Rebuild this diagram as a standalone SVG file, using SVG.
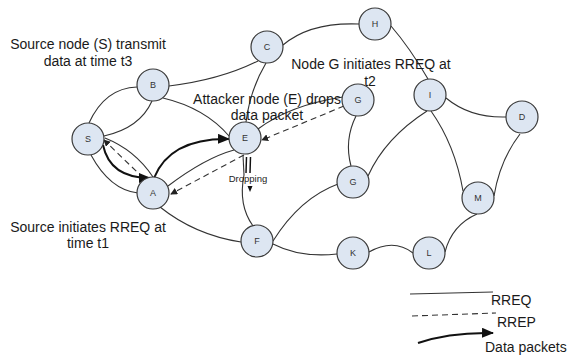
<svg xmlns="http://www.w3.org/2000/svg" width="570" height="356" viewBox="0 0 570 356">
<defs>
<style>
.node circle{fill:#dde6f2;stroke:#3a3a3a;stroke-width:1.2}
.node text{font-family:"Liberation Sans",Arial,sans-serif;font-size:9px;fill:#333;text-anchor:middle}
.e{fill:none;stroke:#333;stroke-width:1.1}
.d{fill:none;stroke:#333;stroke-width:1.1;stroke-dasharray:6 4}
.t{fill:none;stroke:#111;stroke-width:2}
.lbl{font-family:"Liberation Sans",Arial,sans-serif;font-size:14px;fill:#1a1a1a}
.c{text-anchor:middle}
</style>
<marker id="big" viewBox="0 0 12 10" refX="11" refY="5" markerWidth="12" markerHeight="10" markerUnits="userSpaceOnUse" orient="auto">
<path d="M0,0 L12,5 L0,10 z" fill="#111"/>
</marker>
<marker id="sm" viewBox="0 0 8 8" refX="7" refY="4" markerWidth="7" markerHeight="7" markerUnits="userSpaceOnUse" orient="auto">
<path d="M0,0 L8,4 L0,8 z" fill="#222"/>
</marker>
</defs>
<rect width="570" height="356" fill="#fff"/>
<g id="connectors">
<path class="e" d="M89 123 Q105 88 137 87"/>
<path class="e" d="M104 136 Q140 128 152 101"/>
<path class="e" d="M163 98 Q205 108 229 136"/>
<path class="e" d="M105 138 Q135 150 153 177"/>
<path class="e" d="M91 155 Q110 190 138 193"/>
<path class="e" d="M168 186 Q205 158 234 150"/>
<path class="e" d="M160 207 Q195 235 241 242"/>
<path class="e" d="M169 86 Q220 80 258 61"/>
<path class="e" d="M266 63 Q250 90 246 122"/>
<path class="e" d="M283 45 Q310 22 359 24"/>
<path class="e" d="M391 26 Q410 48 428 79"/>
<path class="e" d="M446 98 Q470 118 506 117"/>
<path class="e" d="M427 111 Q385 138 368 176"/>
<path class="e" d="M431 111 Q455 145 463 191"/>
<path class="e" d="M520 134 Q500 160 494 196"/>
<path class="e" d="M477 214 Q452 225 445 252"/>
<path class="e" d="M413 253 C400 243 385 243 369 252"/>
<path class="e" d="M337 254 Q300 258 273 244"/>
<path class="e" d="M273 241 Q300 198 338 184"/>
<path class="e" d="M356 116 Q344 140 351 166"/>
<path class="e" d="M343 97 Q290 105 258 129"/>
<path class="e" d="M244 175 Q238 205 253 226"/>
<path class="e" d="M243 155 L244 175"/>
<line x1="246.5" y1="157" x2="246" y2="173" stroke="#111" stroke-width="1.5"/>
<line x1="250.5" y1="157" x2="250" y2="173" stroke="#111" stroke-width="1.5"/>
<path d="M247.5 186 L252.5 186 L250 192 z" fill="#111"/>
<path class="d" d="M165 199 L104 140" marker-end="url(#sm)"/>
<path class="d" d="M244 155 L171 194" marker-end="url(#sm)"/>
<path class="d" d="M344 106 L262 140" marker-end="url(#sm)"/>
<path class="t" d="M103 145 Q110 178 150 178" marker-end="url(#big)"/>
<path class="t" d="M154 178 Q170 138 229 139" marker-end="url(#big)"/>
</g>
<g id="node-S" class="node"><circle cx="88" cy="139" r="16"/><text x="88" y="142">S</text></g>
<g id="node-B" class="node"><circle cx="153" cy="85" r="16"/><text x="153" y="88">B</text></g>
<g id="node-C" class="node"><circle cx="267" cy="47" r="16"/><text x="267" y="50">C</text></g>
<g id="node-H" class="node"><circle cx="375" cy="24" r="16"/><text x="375" y="27">H</text></g>
<g id="node-E" class="node"><circle cx="245" cy="138" r="16"/><text x="245" y="141">E</text></g>
<g id="node-A" class="node"><circle cx="153" cy="193" r="16"/><text x="153" y="196">A</text></g>
<g id="node-F" class="node"><circle cx="257" cy="241" r="16"/><text x="257" y="244">F</text></g>
<g id="node-G1" class="node"><circle cx="358" cy="100" r="16"/><text x="358" y="103">G</text></g>
<g id="node-G2" class="node"><circle cx="353" cy="182" r="16"/><text x="353" y="185">G</text></g>
<g id="node-I" class="node"><circle cx="430" cy="95" r="16"/><text x="430" y="98">I</text></g>
<g id="node-D" class="node"><circle cx="522" cy="117" r="16"/><text x="522" y="120">D</text></g>
<g id="node-M" class="node"><circle cx="478" cy="198" r="16"/><text x="478" y="201">M</text></g>
<g id="node-K" class="node"><circle cx="353" cy="253" r="16"/><text x="353" y="256">K</text></g>
<g id="node-L" class="node"><circle cx="429" cy="253" r="16"/><text x="429" y="256">L</text></g>
<g id="labels">
<text class="lbl c" x="88" y="49">Source node (S) transmit</text>
<text class="lbl c" x="88" y="66">data at time t3</text>
<text class="lbl c" x="267" y="104">Attacker node (E) drops</text>
<text class="lbl c" x="267" y="120">data packet</text>
<text class="lbl c" x="371" y="69">Node G initiates RREQ at</text>
<text class="lbl c" x="370" y="86">t2</text>
<text class="lbl c" x="88" y="232">Source initiates RREQ at</text>
<text class="lbl c" x="88" y="248">time t1</text>
<text x="248" y="182" font-family="Liberation Sans,Arial,sans-serif" font-size="9.5" fill="#222" text-anchor="middle">Dropping</text>
</g>
<g id="legend">
<path class="e" d="M410 294 L493 292"/>
<path class="d" d="M412 316 L496 313"/>
<path class="t" d="M418 343 Q450 332 493 333" marker-end="url(#big)"/>
<text class="lbl" x="491" y="305">RREQ</text>
<text class="lbl" x="497" y="327">RREP</text>
<text class="lbl" x="485" y="352">Data packets</text>
</g>
</svg>
